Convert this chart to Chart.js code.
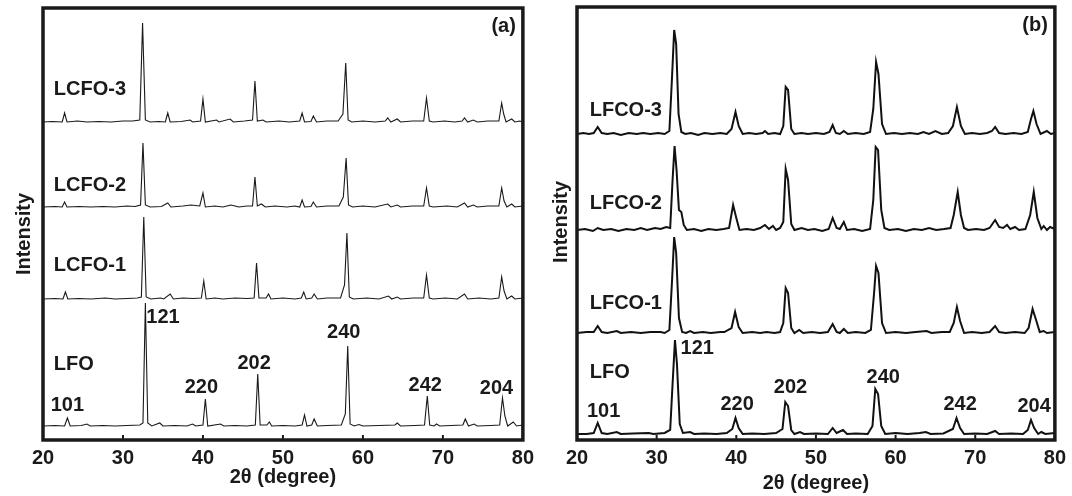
<!DOCTYPE html>
<html>
<head>
<meta charset="utf-8">
<script src="https://cdn.jsdelivr.net/npm/chart.js@4"></script>
<style>
  html, body { margin: 0; padding: 0; background: #fff; }
  #wrap { position: relative; width: 1072px; height: 496px; }
  #chartA { position: absolute; left: 0; top: 0; }
  #chartB { position: absolute; left: 540px; top: 0; }
</style>
</head>
<body>
<div id="wrap">
  <canvas id="chartA" width="540" height="496"></canvas>
  <canvas id="chartB" width="532" height="496"></canvas>
</div>
<script>
// ---- data: [2theta, intensity above the trace baseline] ----
const seriesNamesA = ['LCFO-3', 'LCFO-2', 'LCFO-1', 'LFO'];
const seriesNamesB = ['LFCO-3', 'LFCO-2', 'LFCO-1', 'LFO'];
const hklLabels = ['101', '121', '220', '202', '240', '242', '204'];
const xTicks = [20, 30, 40, 50, 60, 70, 80];

// stacking offsets of each trace (same units as intensity)
const offsetsA = [318, 233, 141, 14];
const offsetsB = [306, 210, 107, 6];

const lcfo3 = [[20,0],[21.2,0.5],[22.4,0],[22.7,9],[23.0,0],[24.3,1],[25.5,0],[27,0.5],[28.5,0],[30,1],[31.2,1],[32.1,2],[32.45,99],[32.8,2],[33.4,0],[34.5,0.5],[35.3,0],[35.6,9],[35.9,0],[37.3,0.5],[38.4,2],[38.7,0],[39.7,1],[40.0,23],[40.3,0],[41.7,2],[42.0,0],[43.4,3],[43.8,0],[45.2,1],[46.2,2],[46.5,41],[46.8,1],[47.5,2],[47.9,0],[49.5,1],[50.8,0],[52.1,1],[52.4,9],[52.7,0],[53.5,0.5],[53.8,6],[54.2,0],[55.5,1],[56.9,1],[57.5,8],[57.85,59],[58.15,2],[58.6,0],[60,1],[61.5,0],[62.8,1],[63.1,4],[63.5,0],[64.3,3],[64.7,0],[66.2,1],[67.6,1],[67.95,24],[68.3,1],[68.8,0],[70.2,1],[71.5,0],[72.4,1],[72.7,4],[73.1,0],[73.8,2],[74.3,0],[75.6,1],[77.0,1],[77.35,19],[77.6,8],[77.9,0],[78.6,3],[79.0,0],[79.6,1],[80,0]];
const lcfo2 = [[20,0],[21.5,0.5],[22.4,0],[22.7,5],[23.0,0],[24.5,0.5],[26,0],[27.5,0.5],[29,0],[30.5,1],[31.5,0.5],[32.2,2],[32.5,64],[32.8,2],[33.4,0],[34.8,0.5],[35.6,4],[36.0,0],[37.5,1],[38.5,2],[39.6,1],[40.0,14],[40.3,0],[41.5,1],[42.5,0],[43.5,2],[44.5,0],[45.5,1],[46.2,1],[46.5,30],[46.8,1],[47.3,3],[47.8,0],[49,1],[50.5,0],[51.5,1],[52.1,0],[52.4,7],[52.7,0],[53.5,0.5],[53.8,5],[54.2,0],[55.5,1],[57.0,1],[57.55,10],[57.9,49],[58.2,2],[58.7,0],[60,1],[61.5,0],[63.1,3],[63.5,0],[64.3,2],[64.7,0],[66.2,1],[67.6,1],[67.95,19],[68.3,1],[68.8,0],[70.5,1],[71.8,0],[72.7,4],[73.1,0],[73.8,2],[74.3,0],[75.6,1],[77.0,1],[77.35,19],[77.65,6],[78.0,0],[78.6,3],[79.0,0],[80,1]];
const lcfo1 = [[20,0],[21.5,0.5],[22.5,0],[22.8,7],[23.1,0],[24.5,0.5],[26,0],[27.8,1],[29,0],[30.5,0.5],[31.8,1],[32.3,2],[32.6,82],[32.9,2],[33.5,0],[34.7,1],[35.1,0],[35.9,5],[36.3,0],[37.5,1],[38.8,0.5],[39.8,1],[40.1,18],[40.4,0],[41.5,1],[42.5,0],[44,1],[45.5,0.5],[46.4,1],[46.7,36],[47.0,1],[47.9,1],[48.2,5],[48.5,0],[50,1],[51.5,0],[52.3,1],[52.6,7],[52.9,0],[53.6,1],[53.9,5],[54.3,0],[55.5,1],[57.2,1],[57.7,14],[58.0,66],[58.3,2],[58.8,0],[60.5,1],[62,0],[63.2,3],[63.6,0],[64.3,2],[64.7,0],[66.3,1],[67.6,1],[67.95,24],[68.3,1],[68.8,0],[70.3,1],[71.8,0],[72.7,5],[73.1,0],[74.5,1],[76.0,0],[77.0,1],[77.35,22],[77.65,8],[78.0,0],[78.6,3],[79.0,0],[80,1]];
const lfoA = [[20,0],[21.5,0.5],[22.7,0],[23.05,8],[23.4,0],[24.8,0.5],[25.5,2],[25.9,0],[27.5,0.5],[29,0],[30.5,0.5],[32.1,1],[32.5,3],[32.8,123],[33.1,3],[33.6,0],[34.6,3],[35.0,0],[36.5,0.5],[38.0,0],[38.7,2],[39.1,0],[40.0,1],[40.3,27],[40.6,0],[42.2,2],[42.6,0],[44,0.5],[45.5,0],[46.55,1],[46.85,52],[47.15,1],[48.0,1],[48.3,4],[48.6,0],[50,0.5],[51.5,0],[52.4,1],[52.7,11],[53.0,0],[53.6,1],[53.9,7],[54.3,0],[55.5,0.5],[57.3,1],[57.8,12],[58.1,80],[58.4,2],[58.9,0],[59.5,1.5],[60,0],[62,0.5],[64.0,1],[64.3,3],[64.7,0],[66.5,0.5],[67.7,1],[68.05,30],[68.35,1],[68.9,0],[69.2,2],[69.6,0],[71,0.5],[72.5,1],[72.8,7],[73.2,0],[73.9,2],[74.3,0],[76,0.5],[77.1,1],[77.45,28],[77.75,10],[78.1,0],[78.8,4],[79.2,0],[80,1]];

const lfco3 = [[20,0],[20.8,1],[21.5,0],[22.1,1],[22.6,7],[23.1,1],[23.8,0],[24.6,1],[25.5,-1],[26.5,1],[27.5,0],[28.3,1],[29.2,0],[30.2,1],[31.0,0],[31.6,3],[31.95,60],[32.2,104],[32.45,90],[32.75,20],[33.1,2],[33.6,0],[34.3,1],[35.2,-1],[36.0,1],[37.0,0],[38.0,1],[38.8,0],[39.4,5],[39.9,22],[40.3,8],[40.8,0],[41.6,1],[42.5,0],[43.3,1],[43.6,3],[44.0,0],[44.8,1],[45.5,0],[45.9,8],[46.2,47],[46.5,44],[46.9,5],[47.3,0],[48.2,1],[49.0,0],[50.0,1],[51.0,0],[51.7,2],[52.1,9],[52.5,1],[53.0,0],[53.5,3],[54.0,0],[55.0,1],[56.0,0],[56.8,2],[57.2,25],[57.55,72],[57.85,60],[58.3,10],[58.8,0],[59.8,1],[60.8,0],[61.8,1],[62.8,0],[63.5,2],[64.2,0],[65.0,3],[65.8,0],[66.6,1],[67.2,8],[67.7,27],[68.2,8],[68.7,0],[69.6,1],[70.6,0],[71.5,1],[72.1,3],[72.5,7],[73.0,1],[73.8,0],[74.8,1],[75.8,0],[76.6,2],[77.0,15],[77.3,23],[77.7,10],[78.2,0],[79.0,3],[79.5,0],[80,1]];
const lfco2 = [[20,0],[21.0,1],[22.0,-1],[22.6,2],[23.3,0],[24.3,1],[25.2,-1],[26.2,1],[27.2,0],[28.0,2],[28.8,0],[29.8,2],[30.5,1],[31.2,3],[31.7,2],[32.0,50],[32.25,84],[32.5,60],[32.8,20],[33.1,18],[33.4,5],[33.8,0],[34.7,1],[35.6,-1],[36.5,1],[37.5,0],[38.4,1],[39.1,2],[39.6,25],[40.0,12],[40.4,0],[41.3,1],[42.2,0],[43.0,2],[43.6,5],[44.1,1],[44.6,4],[45.0,0],[45.5,2],[45.9,8],[46.2,61],[46.5,50],[46.9,6],[47.3,0],[48.2,2],[49.0,0],[49.8,1],[50.8,-1],[51.6,1],[52.1,12],[52.6,2],[53.0,1],[53.5,8],[53.9,0],[54.8,1],[55.8,-1],[56.8,1],[57.2,30],[57.5,83],[57.8,80],[58.2,20],[58.6,2],[59.2,0],[60.3,1],[61.3,-1],[62.3,1],[63.3,0],[64.2,2],[65.1,0],[66.1,1],[66.9,2],[67.3,15],[67.8,38],[68.2,15],[68.6,2],[69.1,0],[70.1,1],[71.1,0],[71.8,2],[72.5,10],[73.0,3],[73.5,2],[74.0,5],[74.4,1],[75.0,3],[75.5,0],[76.3,1],[76.9,15],[77.35,38],[77.8,12],[78.3,1],[78.6,4],[79.0,0],[79.4,3],[80,1]];
const lfco1 = [[20,0],[21.2,1],[22.1,1],[22.6,7],[23.1,1],[23.8,0],[25.0,2],[25.5,0],[26.8,1],[28.0,0],[29.2,1],[30.5,1],[31.0,0],[31.6,3],[31.95,55],[32.2,96],[32.45,80],[32.8,15],[33.2,1],[33.7,0],[34.2,2],[34.7,0],[35.8,1],[36.8,0],[38.0,1],[38.5,1],[39.4,5],[39.85,21],[40.3,6],[40.8,0],[42.0,1],[43.0,0],[43.8,1],[44.8,0],[45.5,1],[45.9,10],[46.2,45],[46.5,40],[46.9,5],[47.3,0],[47.9,3],[48.4,0],[49.5,1],[50.5,0],[51.5,1],[52.1,9],[52.6,1],[53.0,0],[53.5,4],[54.0,0],[55.0,1],[56.2,0],[56.9,3],[57.3,40],[57.55,67],[57.85,60],[58.3,10],[58.8,0],[60.0,1],[61.3,0],[62.5,1],[63.9,2],[64.5,0],[65.8,1],[66.8,1],[67.3,10],[67.7,26],[68.1,12],[68.6,0],[69.6,1],[70.8,0],[71.8,1],[72.5,7],[73.0,1],[73.8,0],[75.0,1],[76.2,0],[76.7,5],[77.2,24],[77.6,14],[78.1,1],[78.6,2],[79.0,0],[80,1]];
const lfoB = [[20,0],[21.2,0],[22.1,1],[22.6,11],[23.1,1],[23.8,0],[25.0,2],[25.5,0],[27.0,0.5],[29.0,1],[29.6,0],[31.0,1],[31.7,4],[32.0,50],[32.3,94],[32.55,70],[32.9,10],[33.3,1],[34.2,2],[34.7,0],[36.0,0.5],[37.5,0],[38.8,1],[39.5,5],[39.9,16],[40.3,6],[40.8,0],[42.0,0.5],[43.5,0],[45.0,1],[45.8,5],[46.15,32],[46.5,28],[46.9,4],[47.3,0],[48.0,2],[48.5,0],[50.0,0.5],[51.5,0],[52.1,6],[52.6,1],[53.4,4],[53.9,0],[55.0,0.5],[56.5,0],[57.1,8],[57.45,45],[57.8,40],[58.2,8],[58.7,0],[60.0,1],[61.5,0],[63.0,1],[63.8,2],[64.4,0],[66.0,0.5],[67.2,5],[67.65,16],[68.1,6],[68.6,0],[70.0,0.5],[71.5,0],[72.5,3],[73.0,0],[74.5,0.5],[76.0,0],[76.6,4],[77.0,14],[77.4,6],[77.9,0],[78.3,2],[78.8,0],[80,1]];

// ---- label placement (2theta, intensity) ----
const hklAnchorsA = [[23.05,35],[35.0,123],[39.8,53],[46.4,77],[57.6,108],[67.8,55],[76.7,52]];
const hklAnchorsB = [[23.35,29],[35.1,92],[40.1,36],[46.8,53],[58.45,63],[68.1,36],[77.4,34]];
const nameAnchorsA = [[21.35,351],[21.35,255],[21.35,175],[21.35,76]];
const nameAnchorsB = [[21.6,330],[21.6,237],[21.6,137],[21.6,68]];

const FONT = "'Liberation Sans', Arial, Helvetica, sans-serif";
const INK = '#1a1a1a';

const decor = {
  id: 'decor',
  afterDraw(chart, args, opts) {
    const { ctx, chartArea: a, scales: { x, y } } = chart;
    ctx.save();
    // frame
    ctx.strokeStyle = INK;
    ctx.lineWidth = 3.5;
    ctx.strokeRect(a.left, a.top, a.right - a.left, a.bottom - a.top);
    // inner tick marks
    ctx.lineWidth = 2;
    xTicks.slice(1, -1).forEach(v => {
      const px = x.getPixelForValue(v);
      ctx.beginPath();
      ctx.moveTo(px, a.bottom);
      ctx.lineTo(px, a.bottom - 5);
      ctx.stroke();
    });
    // text
    ctx.fillStyle = INK;
    ctx.font = 'bold 20px ' + FONT;
    ctx.textBaseline = 'middle';
    ctx.textAlign = 'center';
    hklLabels.forEach((t, i) => {
      const [vx, vy] = opts.hkl[i];
      ctx.fillText(t, x.getPixelForValue(vx), y.getPixelForValue(vy));
    });
    ctx.textAlign = 'left';
    opts.names.forEach((t, i) => {
      const [vx, vy] = opts.nameAt[i];
      ctx.fillText(t, x.getPixelForValue(vx), y.getPixelForValue(vy));
    });
    ctx.textAlign = 'right';
    ctx.fillText(opts.tag, a.right - 7, a.top + 18);
    // y axis title
    ctx.translate(opts.yTitleX, opts.yTitleY);
    ctx.rotate(-Math.PI / 2);
    ctx.textAlign = 'center';
    ctx.fillText('Intensity', 0, 0);
    ctx.restore();
  }
};

function makeChart(id, traces, offsets, cfg) {
  const datasets = traces.map((tr, i) => ({
    data: tr.map(p => ({ x: p[0], y: p[1] + offsets[i] })),
    borderColor: cfg.lineColor,
    borderWidth: cfg.lineWidth,
    pointRadius: 0,
    tension: 0,
    fill: false
  }));
  return new Chart(document.getElementById(id), {
    type: 'line',
    data: { datasets },
    plugins: [decor],
    options: {
      responsive: false,
      animation: false,
      layout: { padding: { top: cfg.top, right: cfg.right, bottom: 0, left: 0 } },
      plugins: {
        legend: { display: false },
        tooltip: { enabled: false },
        decor: {
          hkl: cfg.hkl, names: cfg.names, nameAt: cfg.nameAt, tag: cfg.tag,
          yTitleX: cfg.yTitleX, yTitleY: cfg.yTitleY
        }
      },
      scales: {
        x: {
          type: 'linear',
          min: 20,
          max: 80,
          afterBuildTicks: s => { s.ticks = xTicks.map(v => ({ value: v })); },
          ticks: { color: INK, padding: 6, maxRotation: 0, font: { family: FONT, size: 20, weight: 'bold' } },
          grid: { display: false, drawTicks: false },
          border: { display: false },
          title: {
            display: true,
            text: '2θ (degree)',
            color: INK,
            font: { family: FONT, size: 20, weight: 'bold' },
            padding: { top: 0, bottom: cfg.xTitlePad }
          },
          afterFit: s => { s.height = 56; }
        },
        y: {
          min: 0,
          max: cfg.yMax,
          ticks: { display: false },
          grid: { display: false, drawTicks: false },
          border: { display: false },
          title: { display: false },
          afterFit: s => { s.width = cfg.left; }
        }
      }
    }
  });
}

makeChart('chartA', [lcfo3, lcfo2, lcfo1, lfoA], offsetsA, {
  lineColor: INK, lineWidth: 1.1,
  top: 8, right: 9, left: 43, yMax: 432,
  xTitlePad: 7, yTitleX: 24, yTitleY: 234,
  hkl: hklAnchorsA, names: seriesNamesA, nameAt: nameAnchorsA, tag: '(a)'
});

makeChart('chartB', [lfco3, lfco2, lfco1, lfoB], offsetsB, {
  lineColor: '#111', lineWidth: 2,
  top: 7, right: 12, left: 37, yMax: 433,
  xTitlePad: 1, yTitleX: 21, yTitleY: 222,
  hkl: hklAnchorsB, names: seriesNamesB, nameAt: nameAnchorsB, tag: '(b)'
});
</script>
</body>
</html>
